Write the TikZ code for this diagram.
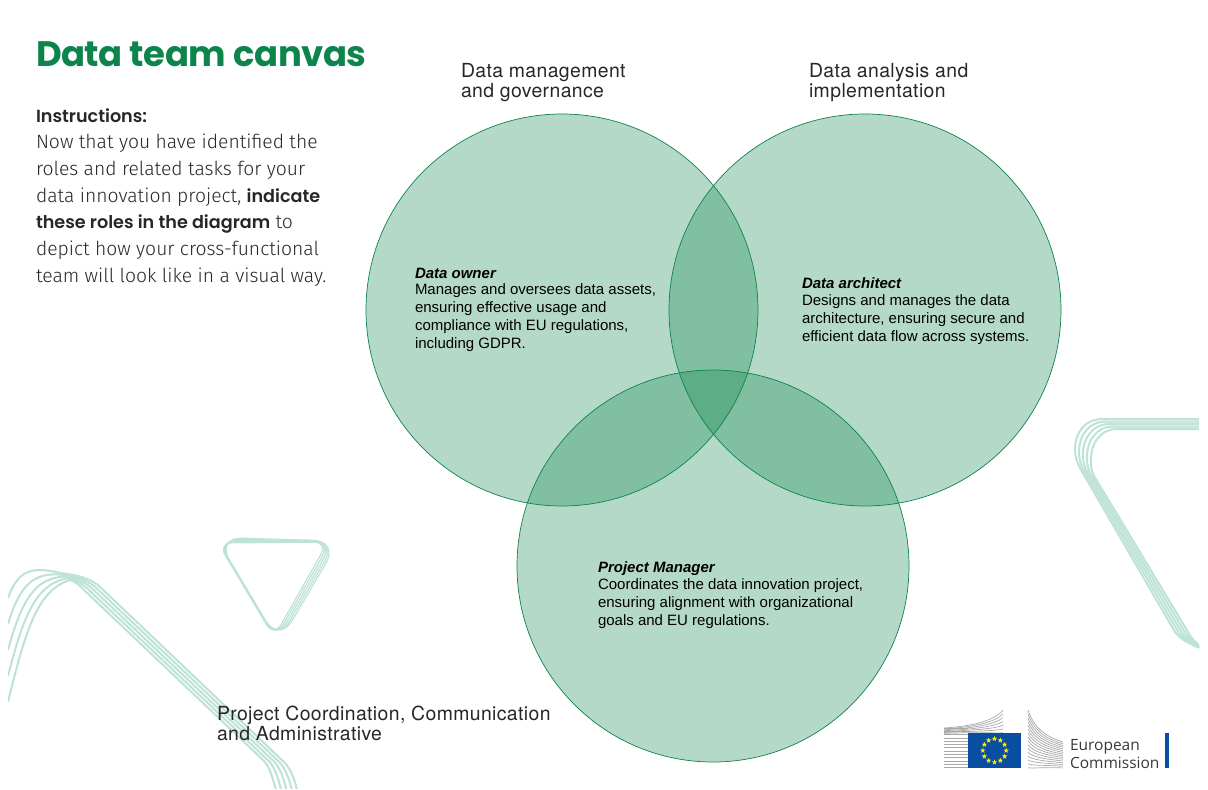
\documentclass[tikz,border=0pt]{standalone}
\usepackage{fontspec}
\setmainfont{Liberation Sans}
\newfontfamily\headfont[LetterSpace=-1.2]{Poppins}
\newfontfamily\instbold{Poppins SemiBold}
\newfontfamily\instfont{Fira Sans Light}
\newfontfamily\labfont[LetterSpace=2]{TeX Gyre Heros}
\newfontfamily\ecfont{Open Sans}
\usetikzlibrary{calc,shapes.geometric}
\definecolor{egreen}{HTML}{0C844B}
\definecolor{swoosh}{HTML}{BDE3D4}
\definecolor{inktext}{HTML}{26272B}
\definecolor{eublue}{HTML}{0A4EA2}
\definecolor{eustar}{HTML}{FFED00}
\definecolor{ecgrey}{HTML}{A8A8A8}
\newcommand{\bo}[1]{{\instbold\fontsize{17.6}{22}\selectfont #1}}
\tikzset{
  venn/.style={circle,minimum size=392pt,inner sep=0pt,fill=egreen,fill opacity=0.3,draw=egreen,draw opacity=1,line width=0.7pt},
  txt/.style={anchor=base west,inner sep=0pt,outer sep=0pt,text=black},
  inst/.style={txt,text=inktext,font=\instfont\fontsize{19.3}{24}\selectfont},
  lab/.style={txt,text=inktext,font=\labfont\fontsize{19.4}{22}\selectfont},
  body/.style={txt,font=\fontsize{15}{17}\selectfont},
  role/.style={txt,font=\fontsize{15}{17}\selectfont\bfseries\itshape},
  sw/.style={draw=swoosh,line width=2pt,line join=round},
  ec/.style={draw=ecgrey,line width=0.7pt}
}
\begin{document}
\begin{tikzpicture}[x=1pt,y=-1pt]
\useasboundingbox[fill=white] (0,0) rectangle (1208,790);
% decorative swooshes
\begin{scope}
\clip (8,560) rectangle (300,788);
\foreach \t in {0,0.25,0.5,0.75,1}{
  \draw[sw] ($(8,598)!\t!(8,702)$) .. controls ($(18,570)!\t!(26,628)$) and ($(32,566)!\t!(38,590)$) .. ($(60,573)!\t!(70,580)$)
    .. controls ($(78,575)!\t!(76,582)$) and ($(88,578)!\t!(78,584)$) .. ($(98,585)!\t!(84,590)$)
    -- ($(285,763)!\t!(263,760)$) .. controls ($(291,770)!\t!(270,766)$) and ($(295,780)!\t!(273,780)$) .. ($(297,790)!\t!(276,790)$);
}
\end{scope}
\begin{scope}
\clip (1060,410) rectangle (1199,650);
\foreach \t in {0,0.25,0.5,0.75,1}{
  \draw[sw] ($(1199,419)!\t!(1199,429)$) -- ($(1103,419)!\t!(1116,429)$)
    .. controls ($(1085,419)!\t!(1102,429)$) and ($(1075,432)!\t!(1090,442)$) .. ($(1075,450)!\t!(1091,462)$)
    .. controls ($(1075,456)!\t!(1091,468)$) and ($(1077,462)!\t!(1092,472)$) .. ($(1080,468)!\t!(1094,476)$)
    -- ($(1175,632)!\t!(1188,632)$) .. controls ($(1181,640)!\t!(1191,638)$) and ($(1190,644)!\t!(1195,642)$) .. ($(1200,648)!\t!(1200,646)$);
}
\end{scope}
\foreach \t/\r in {0/26,0.25/23,0.5/20,0.75/17,1/14}{
  \draw[sw,line width=1.2pt,rounded corners=\r pt] ($(216,537.5)!\t!(218,543)$) -- ($(339,541)!\t!(328,542)$) -- ($(279,643)!\t!(274,637)$) -- cycle;
}
% venn
\node[venn] (vA) at (562,310) {};
\node[venn] (vB) at (865,310) {};
\node[venn] (vC) at (713,566) {};
% title and instructions
\node[txt,text=egreen,font=\headfont\fontsize{35.4}{44}\selectfont\bfseries] (title) at (36,66) {Data team canvas};
\node[inst,font=\instbold\fontsize{17.6}{22}\selectfont] (i0) at (36,122) {Instructions:};
\node[inst] (i1) at (36,148) {Now that you have identified the};
\node[inst] (i2) at (36,175) {roles and related tasks for your};
\node[inst] (i3) at (36,202) {data innovation project, \bo{indicate}};
\node[inst] (i4) at (36,228) {\bo{these roles in the diagram} to};
\node[inst] (i5) at (36,255) {depict how your cross-functional};
\node[inst] (i6) at (36,282) {team will look like in a visual way.};
% set labels
\node[lab] (l1) at (461,77) {Data management};
\node[lab] (l2) at (461,97) {and governance};
\node[lab] (l3) at (809,77) {Data analysis and};
\node[lab] (l4) at (809,97) {implementation};
\node[lab] (l5) at (217,720) {Project Coordination, Communication};
\node[lab] (l6) at (217,740) {and Administrative};
% roles
\node[role] (r1) at (415,278) {Data owner};
\node[body] (b1a) at (415,294) {Manages and oversees data assets,};
\node[body] (b1b) at (415,312) {ensuring effective usage and};
\node[body] (b1c) at (415,330) {compliance with EU regulations,};
\node[body] (b1d) at (415,348) {including GDPR.};
\node[role] (r2) at (802,288) {Data architect};
\node[body] (b2a) at (802,305) {Designs and manages the data};
\node[body] (b2b) at (802,323) {architecture, ensuring secure and};
\node[body] (b2c) at (802,341) {efficient data flow across systems.};
\node[role] (r3) at (598,572) {Project Manager};
\node[body] (b3a) at (598,589) {Coordinates the data innovation project,};
\node[body] (b3b) at (598,607) {ensuring alignment with organizational};
\node[body] (b3c) at (598,625) {goals and EU regulations.};
% EC logo
\foreach \i in {0,...,12}{
  \draw[ec] (944,{728+\i*3.3}) -- (968,{728+\i*3.3});
}
\foreach \i in {0,...,6}{
  \draw[ec] (944,{728+\i*0.9}) .. controls (975,{726+\i*1.0}) and (995,{720+\i*2.2}) .. (1003,{710+\i*3.8});
}
\foreach \i in {0,...,15}{
  \draw[ec] (1028,{710+\i*3.85}) .. controls (1034,{728+\i*2.7}) and (1046,{737+\i*2.0}) .. (1063,{742+\i*1.73});
}
\fill[eublue] (968,733) rectangle (1021,768);
\foreach \a in {0,30,...,330}{
  \node[star,star points=5,star point ratio=2.4,fill=eustar,inner sep=0pt,minimum size=5.6pt] at ($(994.5,750.5)+(\a:11.7)$) {};
}
\fill[eublue] (1165,733) rectangle (1169,768);
\node[txt,text=black!78,font=\ecfont\fontsize{15.5}{18}\selectfont] (ec1) at (1070,750) {European};
\node[txt,text=black!78,font=\ecfont\fontsize{15.5}{18}\selectfont] (ec2) at (1070,768) {Commission};
\end{tikzpicture}
\end{document}
